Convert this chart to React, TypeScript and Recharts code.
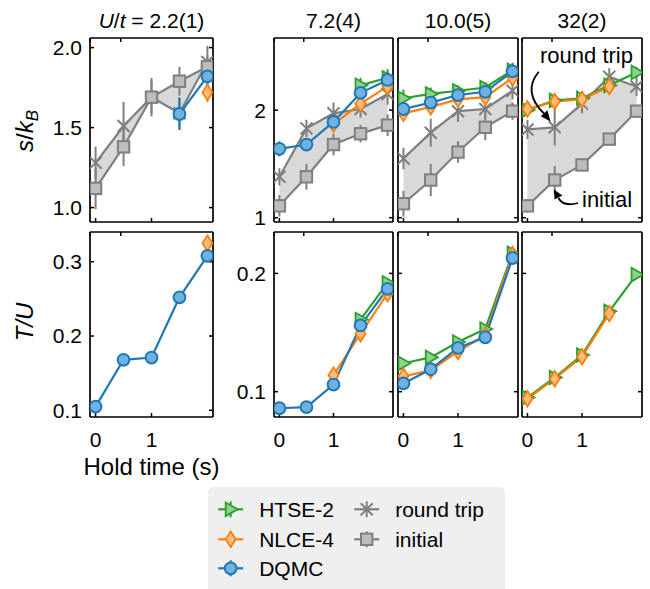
import React from 'react';
import { ComposedChart, Line, Area, XAxis, YAxis, ErrorBar } from 'recharts';

const FONT = '"Liberation Sans", Arial, Helvetica, sans-serif';

// ---------------- data ----------------
const holdTime = [0, 0.5, 1, 1.5, 2];
const uOverT = ['2.2(1)', '7.2(4)', '10.0(5)', '32(2)'];
const xTicks = [0, 1];

// entropy per particle s/kB (one inner array per U/t panel)
const sInitial = [
  [1.12, 1.38, 1.69, 1.79, 1.88],
  [1.11, 1.38, 1.68, 1.78, 1.86],
  [1.13, 1.35, 1.61, 1.84, 1.99],
  [1.11, 1.35, 1.49, 1.73, 1.99],
];
const sInitialErr = [
  [0.13, 0.12, 0.12, 0.09, 0.07],
  [0.1, 0.12, 0.1, 0.08, 0.1],
  [0.12, 0.15, 0.1, 0.12, 0.08],
  [0.06, 0.13, 0.05, 0.05, 0.05],
];
const sRoundTrip = [
  [1.28, 1.51, 1.69, 1.59, 1.91],
  [1.38, 1.83, 1.97, 2.01, 2.15],
  [1.55, 1.79, 1.99, 2.01, 2.18],
  [1.82, 1.84, 2.06, 2.31, 2.22],
];
const sRoundTripErr = [
  [0.1, 0.15, 0.1, 0.1, 0.1],
  [0.08, 0.08, 0.1, 0.08, 0.1],
  [0.1, 0.13, 0.1, 0.08, 0.08],
  [0.09, 0.17, 0.09, 0.08, 0.09],
];
const sDqmc = [
  [null, null, null, 1.585, 1.82],
  [1.64, 1.68, 1.89, 2.16, 2.28],
  [2.01, 2.07, 2.14, 2.17, 2.36],
  [null, null, null, null, null],
];
const sDqmcErr = [
  [0, 0, 0, 0.1, 0.09],
  [0.07, 0.04, 0.05, 0.06, 0.07],
  [0.05, 0.05, 0.05, 0.05, 0.08],
  [0, 0, 0, 0, 0],
];
const sNlce = [
  [null, null, null, null, 1.72],
  [null, null, 1.87, 2.06, 2.22],
  [1.97, 2.03, 2.1, 2.12, 2.3],
  [2.01, 2.08, 2.1, 2.22, null],
];
const sNlceErr = [
  [0, 0, 0, 0, 0.06],
  [0, 0, 0.06, 0.08, 0.08],
  [0.04, 0.04, 0.04, 0.04, 0.05],
  [0.04, 0.04, 0.04, 0.04, 0],
];
const sHtse = [
  [null, null, null, null, null],
  [null, null, null, 2.23, 2.3],
  [2.11, 2.15, 2.18, 2.21, 2.37],
  [2.0, 2.09, 2.11, 2.23, 2.35],
];
const sHtseErr = [
  [0, 0, 0, 0, 0],
  [0, 0, 0, 0.07, 0.08],
  [0.08, 0.06, 0.05, 0.05, 0.06],
  [0.04, 0.04, 0.04, 0.04, 0.05],
];

// temperature T/U
const tDqmc = [
  [0.105, 0.168, 0.171, 0.252, 0.308],
  [0.086, 0.087, 0.106, 0.156, 0.187],
  [0.107, 0.119, 0.137, 0.146, 0.213],
  [null, null, null, null, null],
];
const tNlce = [
  [null, null, null, null, 0.325],
  [null, null, 0.114, 0.149, 0.183],
  [0.113, 0.118, 0.134, 0.148, 0.216],
  [0.094, 0.111, 0.1295, 0.166, null],
];
const tNlceErr = [
  [0, 0, 0, 0, 0.004],
  [0, 0, 0.006, 0.006, 0.005],
  [0.005, 0.005, 0.005, 0.005, 0.005],
  [0.004, 0.004, 0.004, 0.004, 0],
];
const tHtse = [
  [null, null, null, null, null],
  [null, null, null, 0.161, 0.192],
  [0.124, 0.129, 0.142, 0.153, 0.217],
  [0.095, 0.112, 0.131, 0.168, 0.199],
];

const sTicksFirst = [1.0, 1.5, 2.0];
const sTicksOther = [1, 2];
const tTicksFirst = [0.1, 0.2, 0.3];
const tTicksOther = [0.1, 0.2];
const sDomainFirst = [0.91, 2.06];
const sDomainOther = [0.96, 2.67];
const tDomainFirst = [0.091, 0.34];
const tDomainOther = [0.0786, 0.235];

const legendLabels = ['HTSE-2', 'NLCE-4', 'DQMC', 'round trip', 'initial'];

// ---------------- styles ----------------
const C = {
  green: '#2ca02c',
  greenFace: '#8fd28f',
  orange: '#ff7f0e',
  orangeFace: '#ffbb7c',
  blue: '#1f77b4',
  blueFace: '#6fb1e1',
  gray: '#7f7f7f',
  grayFace: '#bdbdbd',
  fill: '#d9d9d9',
};

const colLeft = [90, 274, 398, 522];
const colWidth = [123, 119, 120, 120];
const rowTop = [38, 232];
const rowHeight = [184, 185];

// ---------------- markers ----------------
type P = { cx: number; cy: number };
const CircleM = ({ cx, cy }: P) => (
  <circle cx={cx} cy={cy} r={5.9} fill={C.blueFace} stroke={C.blue} strokeWidth={2} />
);
const SquareM = ({ cx, cy }: P) => (
  <rect x={cx - 5.7} y={cy - 5.7} width={11.4} height={11.4} fill={C.grayFace} stroke={C.gray} strokeWidth={2} />
);
const DiamondM = ({ cx, cy }: P) => (
  <polygon
    points={`${cx},${cy - 7.8} ${cx + 5},${cy} ${cx},${cy + 7.8} ${cx - 5},${cy}`}
    fill={C.orangeFace}
    stroke={C.orange}
    strokeWidth={1.8}
  />
);
const TriM = ({ cx, cy }: P) => (
  <polygon
    points={`${cx + 7},${cy} ${cx - 5},${cy - 6.8} ${cx - 5},${cy + 6.8}`}
    fill={C.greenFace}
    stroke={C.green}
    strokeWidth={1.8}
  />
);
const XM = ({ cx, cy }: P) => (
  <g stroke={C.gray} strokeWidth={2}>
    <line x1={cx - 6} y1={cy - 6} x2={cx + 6} y2={cy + 6} />
    <line x1={cx - 6} y1={cy + 6} x2={cx + 6} y2={cy - 6} />
  </g>
);

const dotFn = (Shape: any) => (p: any) => {
  const key = `dot-${p.index}`;
  if (p.cx == null || p.cy == null || p.value == null || Number.isNaN(p.cy)) return <g key={key} />;
  return (
    <g key={key}>
      <Shape cx={p.cx} cy={p.cy} />
    </g>
  );
};

const EmptyTick = () => <g />;
const axisLine = { stroke: '#000', strokeWidth: 1.7 };
const tickLine = { stroke: '#000', strokeWidth: 1.5 };
const tickFont = { fontSize: 21, fill: '#000', fontFamily: FONT };

function Panel({ col, row }: { col: number; row: number }) {
  const isS = row === 0;
  const data = holdTime.map((t, i) => {
    const pick = (arr: any[][], err?: any[][]) => {
      const v = arr[col][i];
      return { v, e: v == null || !err ? undefined : err[col][i] || undefined };
    };
    const d: any = { t };
    if (isS) {
      const a = pick(sInitial, sInitialErr);
      const b = pick(sRoundTrip, sRoundTripErr);
      const q = pick(sDqmc, sDqmcErr);
      const n = pick(sNlce, sNlceErr);
      const h = pick(sHtse, sHtseErr);
      Object.assign(d, {
        initial: a.v, initialErr: a.e,
        roundTrip: b.v, roundTripErr: b.e,
        dqmc: q.v, dqmcErr: q.e,
        nlce: n.v, nlceErr: n.e,
        htse: h.v, htseErr: h.e,
        band: [a.v, b.v],
      });
    } else {
      const q = pick(tDqmc);
      const n = pick(tNlce, tNlceErr);
      const h = pick(tHtse);
      Object.assign(d, { dqmc: q.v, nlce: n.v, nlceErr: n.e, htse: h.v });
    }
    return d;
  });

  const first = col === 0;
  const showY = col < 2;
  const showX = row === 1;
  const leftW = showY ? 50 : 1;
  const bottomH = showX ? 45 : 8;
  const W = colWidth[col];
  const H = rowHeight[row];
  const yDomain = isS ? (first ? sDomainFirst : sDomainOther) : first ? tDomainFirst : tDomainOther;
  const yTicks = isS ? (first ? sTicksFirst : sTicksOther) : first ? tTicksFirst : tTicksOther;
  const yFmt = (v: number) => (isS ? (first ? v.toFixed(1) : String(v)) : v.toFixed(1));

  const width = leftW + W + 1;
  const height = 1 + H + bottomH;
  const common = { xAxisId: 'b', yAxisId: 'l', isAnimationActive: false, activeDot: false as any };

  return (
    <div style={{ position: 'absolute', left: colLeft[col] - leftW, top: rowTop[row] - 1, width, height }}>
      <ComposedChart
        width={width}
        height={height}
        data={data}
        margin={{ top: 0, right: 0, bottom: 0, left: 0 }}
        style={{ overflow: 'visible' }}
      >
        <XAxis
          xAxisId="b"
          dataKey="t"
          type="number"
          domain={[-0.1, 2.1]}
          allowDataOverflow
          ticks={xTicks}
          interval={0}
          orientation="bottom"
          height={bottomH}
          tickSize={-4}
          tickMargin={19}
          axisLine={axisLine}
          tickLine={tickLine}
          tick={showX ? tickFont : EmptyTick}
        />
        <XAxis
          xAxisId="t"
          type="number"
          domain={[-0.1, 2.1]}
          allowDataOverflow
          ticks={xTicks}
          interval={0}
          orientation="top"
          height={1}
          tickSize={-4}
          axisLine={axisLine}
          tickLine={tickLine}
          tick={EmptyTick}
        />
        <YAxis
          yAxisId="l"
          type="number"
          domain={yDomain}
          allowDataOverflow
          ticks={yTicks}
          interval={0}
          orientation="left"
          width={leftW}
          tickSize={-4}
          tickMargin={12}
          axisLine={axisLine}
          tickLine={tickLine}
          tick={showY ? tickFont : EmptyTick}
          tickFormatter={yFmt}
        />
        <YAxis
          yAxisId="r"
          type="number"
          domain={yDomain}
          allowDataOverflow
          ticks={yTicks}
          interval={0}
          orientation="right"
          width={1}
          tickSize={-4}
          axisLine={axisLine}
          tickLine={tickLine}
          tick={EmptyTick}
        />
        {isS && (
          <Area
            {...common}
            dataKey="band"
            stroke="none"
            fill={C.fill}
            fillOpacity={1}
            dot={false}
          />
        )}
        {isS && (
          <Line {...common} dataKey="roundTrip" stroke={C.gray} strokeWidth={2.2} dot={dotFn(XM)}>
            <ErrorBar dataKey="roundTripErr" direction="y" width={0} stroke={C.gray} strokeWidth={2} />
          </Line>
        )}
        {isS && (
          <Line {...common} dataKey="initial" stroke={C.gray} strokeWidth={2.2} dot={dotFn(SquareM)}>
            <ErrorBar dataKey="initialErr" direction="y" width={0} stroke={C.gray} strokeWidth={2} />
          </Line>
        )}
        <Line {...common} dataKey="htse" stroke={C.green} strokeWidth={2.2} dot={dotFn(TriM)}>
          {isS && <ErrorBar dataKey="htseErr" direction="y" width={0} stroke={C.green} strokeWidth={2} />}
        </Line>
        <Line {...common} dataKey="nlce" stroke={C.orange} strokeWidth={2.2} dot={dotFn(DiamondM)}>
          <ErrorBar dataKey="nlceErr" direction="y" width={0} stroke={C.orange} strokeWidth={2} />
        </Line>
        <Line {...common} dataKey="dqmc" stroke={C.blue} strokeWidth={2.2} dot={dotFn(CircleM)}>
          {isS && <ErrorBar dataKey="dqmcErr" direction="y" width={0} stroke={C.blue} strokeWidth={2} />}
        </Line>
      </ComposedChart>
    </div>
  );
}

function LegendItem({ x, y, Shape, color, label }: any) {
  return (
    <g>
      <line x1={x - 12.5} y1={y} x2={x + 12.5} y2={y} stroke={color} strokeWidth={2.2} />
      <line x1={x} y1={y - 8} x2={x} y2={y + 8} stroke={color} strokeWidth={2} />
      <Shape cx={x} cy={y} />
      <text x={x + 28.5} y={y + 7.5} fontSize={21} fontFamily={FONT} fill="#000">
        {label}
      </text>
    </g>
  );
}

function Overlay() {
  const shapes = [TriM, DiamondM, CircleM, XM, SquareM];
  const colors = [C.green, C.orange, C.blue, C.gray, C.gray];
  const lx = [230.7, 230.7, 230.7, 366.7, 366.7];
  const ly = [509.3, 539.3, 568.3, 509.3, 539.3];
  const centers = colLeft.map((l, i) => l + colWidth[i] / 2);
  return (
    <svg
      width={650}
      height={589}
      style={{ position: 'absolute', left: 0, top: 0, pointerEvents: 'none' }}
      fontFamily={FONT}
    >
      {/* titles */}
      <text x={centers[0]} y={27.5} fontSize={21} textAnchor="middle" fill="#000">
        <tspan fontStyle="italic">U</tspan>/<tspan fontStyle="italic">t</tspan> = {uOverT[0]}
      </text>
      {uOverT.slice(1).map((u, i) => (
        <text key={u} x={centers[i + 1]} y={28} fontSize={21} textAnchor="middle" fill="#000">
          {u}
        </text>
      ))}
      {/* axis labels */}
      <text transform="translate(33,131) rotate(-90)" fontSize={24} textAnchor="middle" fill="#000">
        <tspan fontStyle="italic">s</tspan>/<tspan fontStyle="italic">k</tspan>
        <tspan fontStyle="italic" fontSize={17} dy={5}>B</tspan>
      </text>
      <text transform="translate(33,322) rotate(-90)" fontSize={24} textAnchor="middle" fill="#000" fontStyle="italic">
        T/U
      </text>
      <text x={centers[0]} y={475} fontSize={24} textAnchor="middle" fill="#000">
        Hold time (s)
      </text>
      {/* annotations */}
      <text x={540} y={63} fontSize={22} fill="#000">round trip</text>
      <path d="M538.7,71.7 Q522,92 544,113.5" fill="none" stroke="#000" strokeWidth={1.8} />
      <polygon points="550.5,121.5 540.8,116.2 547.4,110.2" fill="#000" />
      <text x={582} y={207} fontSize={22} fill="#000">initial</text>
      <path d="M578,203 Q563,207 558.5,198" fill="none" stroke="#000" strokeWidth={1.8} />
      <polygon points="554,189.5 554.5,199.6 562.4,195.4" fill="#000" />
      {/* legend */}
      <rect x={208} y={487} width={297} height={120} rx={5} fill="#efefef" />
      {legendLabels.map((lab, i) => (
        <LegendItem key={lab} x={lx[i]} y={ly[i]} Shape={shapes[i]} color={colors[i]} label={lab} />
      ))}
    </svg>
  );
}

export default function App() {
  return (
    <div style={{ position: 'absolute', left: 0, top: 0, width: 650, height: 589, background: '#fff', overflow: 'hidden' }}>
      {[0, 1].map((row) => [0, 1, 2, 3].map((col) => <Panel key={`${row}-${col}`} col={col} row={row} />))}
      <Overlay />
    </div>
  );
}
